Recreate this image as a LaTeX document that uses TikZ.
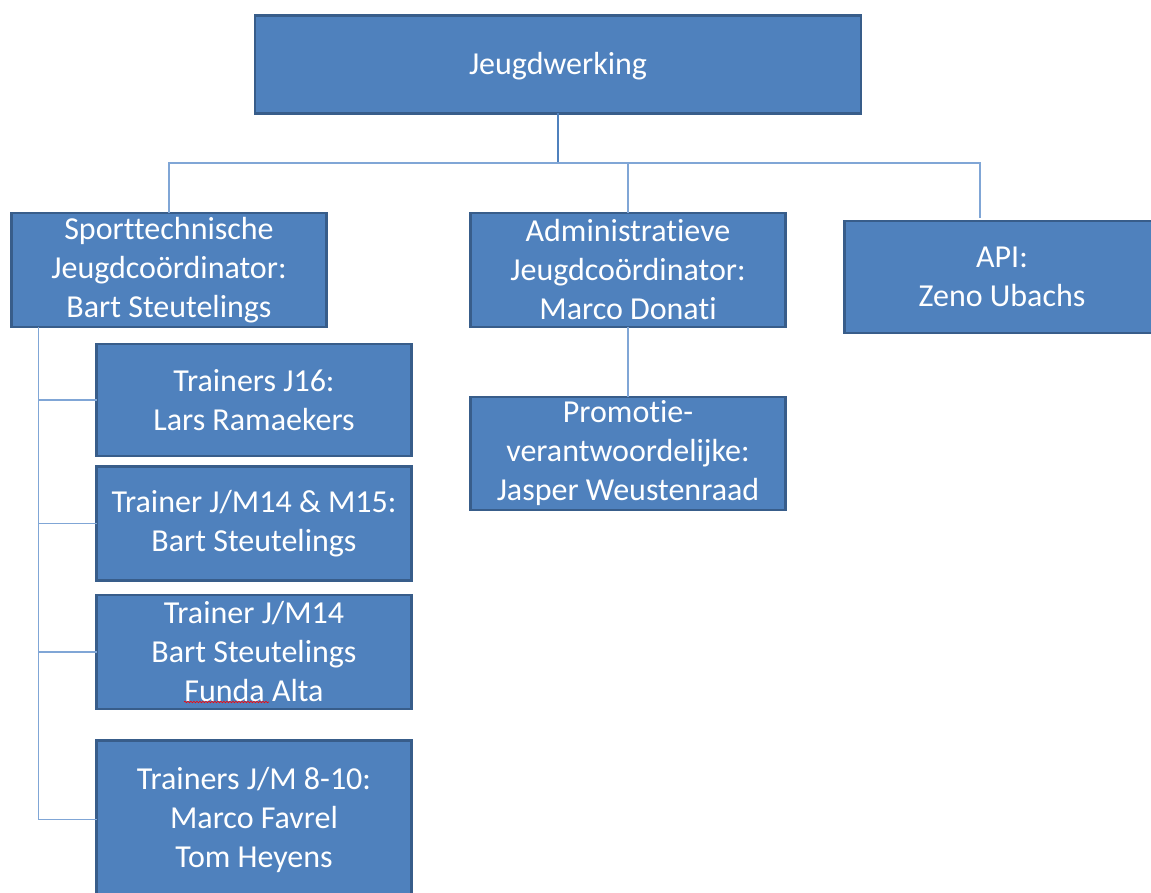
\documentclass[tikz,border=0pt]{standalone}
\usepackage{fontspec}
\setmainfont[RawFeature={-liga;-clig;-calt;-dlig}]{Carlito}
\usepackage{tikz}
\usetikzlibrary{positioning, decorations.pathmorphing}
\usepackage{xcolor}
\definecolor{office-blue}{RGB}{79,129,189}
\definecolor{office-border}{RGB}{56,93,138}
\definecolor{link-blue}{RGB}{128,166,214}

\begin{document}
\begin{tikzpicture}[x=1pt, y=-1pt,
		role/.style={draw=office-border, fill=office-blue, line width=2.5pt, text=white, align=center, inner sep=0pt, outer sep=0pt, minimum width=315pt, font=\fontsize{32}{39}\selectfont},
		link/.style={draw=link-blue, line width=1.5pt}]
			\useasboundingbox (0,0) rectangle (1151,893);
			\node[role, minimum width=606pt, minimum height=98pt, text depth=2pt] (top) at (558,64.5) {Jeugdwerking};
			\node[role, minimum height=114pt] (sport) at (169,270) {Sporttechnische\\Jeugdcoördinator:\\Bart Steutelings};
			\node[role, minimum height=114pt] (admin) at (628,270) {Administratieve\\Jeugdcoördinator:\\Marco Donati};
			\node[role, minimum height=112pt] (api) at (1002,277) {API:\\Zeno Ubachs};
			\node[role, minimum height=113pt, below=70pt of admin] (promo) {Promotie-\\verantwoordelijke:\\Jasper Weustenraad};
			\node[role, minimum height=112pt, below right=17pt and 85pt of sport.south west] (j16) {Trainers J16:\\Lars Ramaekers};
			\node[role, minimum height=114pt, below=10.5pt of j16] (m1415) {Trainer J/M14 \& M15:\\Bart Steutelings};
			\node[role, minimum height=114pt, below=14.5pt of m1415] (m14) {Trainer J/M14\\Bart Steutelings\\Funda Alta};
			\node[role, minimum height=158pt, below=31.5pt of m14] (j810) {Trainers J/M 8-10:\\Marco Favrel\\Tom Heyens};
			\coordinate (bar) at (558,163);
			\coordinate (trunk) at ([xshift=27pt]sport.south west);
			\coordinate (apitop) at ([xshift=-22pt, yshift=3pt]api.north);
			\draw[link, draw=office-blue, line width=2pt] (top) -- (bar);
			\draw[link] (sport.north) |- (bar) -| (apitop);
			\draw[link] (admin.north) -- (admin.north |- bar);
			\draw[link] (admin) -- (promo);
			\foreach \kid in {j16, m1415, m14, j810}
				\draw[link] (trunk) |- (\kid.west);
			\draw[red, line width=0.6pt, decorate, decoration={snake, amplitude=0.8pt, segment length=3pt}] ([xshift=-70pt, yshift=7pt]m14.south) -- ++(85,0);
		\end{tikzpicture}
\end{document}
